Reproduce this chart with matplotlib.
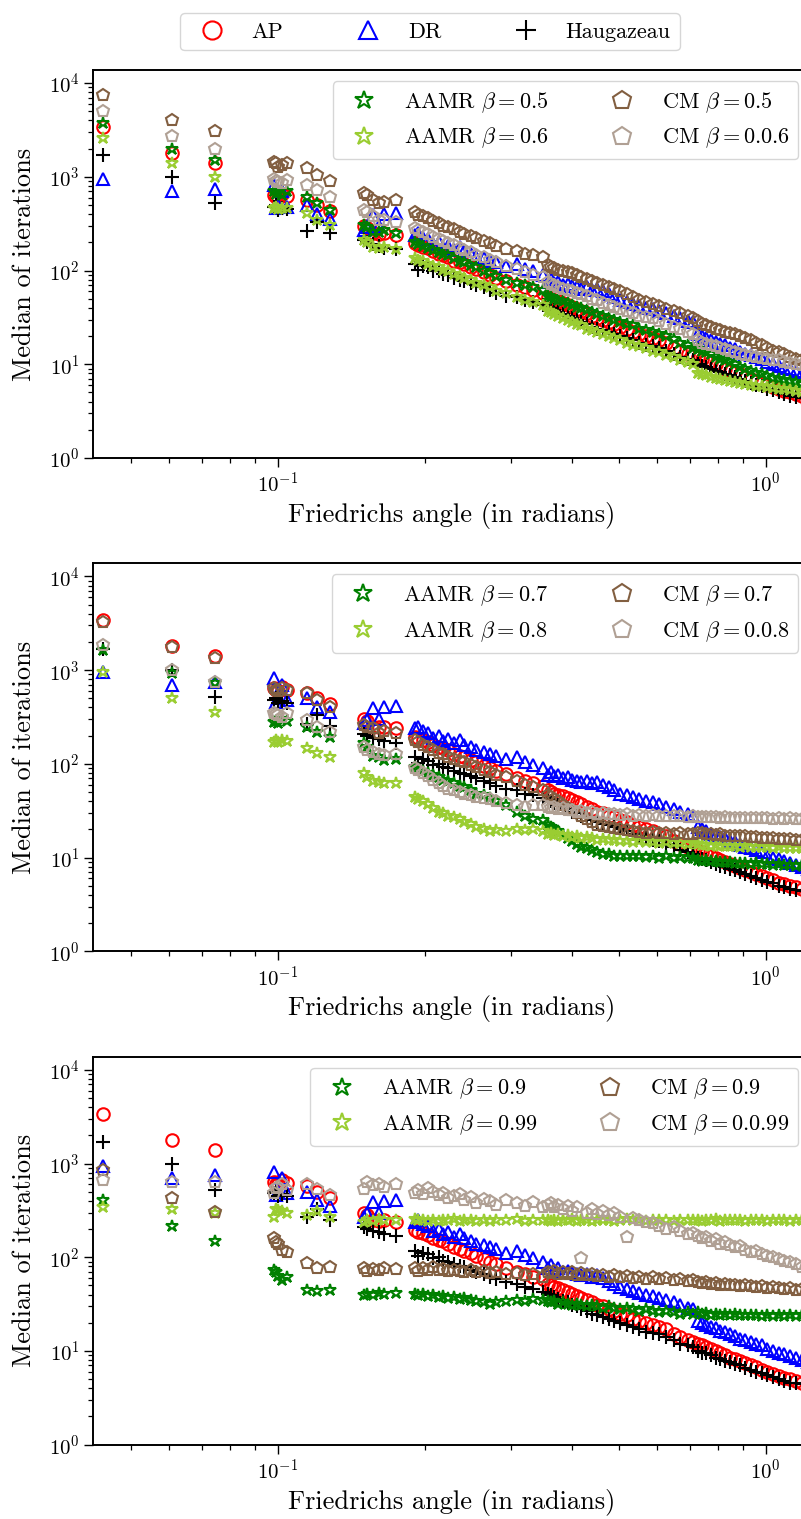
import numpy as np
import matplotlib
matplotlib.use("Agg")
import matplotlib.pyplot as plt

plt.rcParams['font.family'] = 'serif'
plt.rcParams['font.serif'] = ['cmr10']
plt.rcParams['mathtext.fontset'] = 'cm'
plt.rcParams['axes.formatter.use_mathtext'] = True
plt.rcParams['axes.unicode_minus'] = False

# Friedrichs angles of the test problems (radians)
angles = [
    0.0439, 0.0608, 0.0744,
    0.0982, 0.0991, 0.1003, 0.1019, 0.1047,
    0.1148, 0.1203, 0.1281,
    0.1503, 0.1522, 0.1571, 0.1612, 0.1648, 0.1749,
    0.1912, 0.1935, 0.1988, 0.2031, 0.2085, 0.2142, 0.2178, 0.2236, 0.2301, 0.2365, 0.2412,
    0.2488, 0.2553, 0.2641, 0.2717, 0.2802, 0.2934, 0.3098, 0.3215, 0.3342, 0.3497,
    0.3578, 0.3624, 0.3691, 0.3755, 0.3842, 0.3927, 0.4013, 0.4108, 0.4189, 0.4296, 0.4403,
    0.4521, 0.4639, 0.4772, 0.4898, 0.5036, 0.5187, 0.5334, 0.5502, 0.5681, 0.5869, 0.6047,
    0.6253, 0.6472, 0.6688, 0.6921, 0.7103,
    0.7262, 0.7398, 0.7556, 0.7713, 0.7891, 0.8064, 0.8247, 0.8453, 0.8648, 0.8872, 0.9081,
    0.9317, 0.9552, 0.9809, 1.0066, 1.0341, 1.0628, 1.0925, 1.1233, 1.1561, 1.1894, 1.2230,
]

# median iteration counts, common methods
ap = [
    3400, 1800, 1400,
    640, 610, 600, 660, 620,
    570, 500, 430,
    300, 285, 250, 245, 250, 240,
    195, 188, 180, 172, 160, 152, 148, 140, 128, 122, 118, 110, 104, 96, 90, 84, 77, 70, 66, 62, 58,
    52, 50, 48, 47, 45, 43, 41, 39, 37, 35, 33, 31, 30, 28, 27, 25, 24, 22, 21, 20, 19, 18, 17,
    15, 14, 13, 12.5,
    12, 11.5, 11, 10.5, 10, 9.5, 9, 8.5, 8.2, 7.8, 7.4, 7.0, 6.7, 6.3, 6.0, 5.7, 5.4, 5.2, 5.0,
    4.8, 4.6, 4.4,
]
dr = [
    950, 700, 750,
    820, 460, 500, 700, 480,
    500, 405, 355,
    270, 295, 390, 300, 400, 410,
    240, 250, 225, 215, 190, 200, 175, 185, 165, 178, 160, 150, 140, 135, 128, 122, 112, 118,
    105, 98, 90,
    76, 82, 74, 76, 70, 72, 68, 66, 64, 66, 62, 64, 60, 56, 52, 48, 46, 44, 42, 40, 39, 37, 35,
    33, 31, 29, 28,
    21, 20, 19, 18, 17.5, 16.5, 16, 15, 14.5, 13.5, 13, 12.5, 12, 11.5, 10.5, 10, 9.6, 9.2, 8.8,
    8.4, 8.0, 7.6,
]
haug = [
    1700, 1000, 520,
    480, 500, 445, 470, 450,
    266, 330, 252,
    210, 200, 190, 185, 175, 168,
    118, 102, 112, 108, 98, 100, 92, 90, 84, 80, 78, 74, 70, 66, 62, 58, 54, 52, 48, 46, 43,
    41, 40, 38, 36, 34, 33, 31, 30, 28, 27, 25, 24, 23, 22, 21, 20, 19, 18, 17, 16, 15.5, 15,
    14, 13, 12, 11.5, 11,
    10, 9.6, 9.4, 9.0, 8.5, 8.2, 7.9, 7.6, 7.3, 7.0, 6.6, 6.3, 6.0, 5.8, 5.5, 5.3, 5.0, 4.8, 4.6,
    4.5, 4.4, 4.3,
]

# AAMR and CM, beta = 0.5 / 0.6
aamr_05 = [
    3800, 2000, 1500,
    700, 660, 690, 640, 700,
    605, 525, 440,
    305, 290, 260, 257, 270, 250,
    200, 190, 185, 175, 165, 158, 150, 145, 135, 128, 122, 115, 108, 100, 95, 88, 80, 74, 70,
    66, 62,
    54, 52, 50, 48, 47, 45, 43, 41, 40, 38, 36, 34, 33, 31, 30, 28, 27, 26, 24, 23, 22, 21, 20,
    18.5, 17, 16, 15,
    14.5, 14, 13.5, 13, 12, 11.5, 11, 10.5, 10, 9.4, 9.0, 8.5, 8.1, 7.8, 7.5, 7.2, 7.0, 6.8,
    6.6, 6.4, 6.2, 6.0,
]
aamr_06 = [
    2600, 1400, 1000,
    465, 480, 450, 470, 460,
    410, 345, 305,
    211, 200, 178, 172, 180, 170,
    135, 130, 125, 118, 112, 108, 102, 98, 92, 88, 84, 80, 74, 70, 66, 61, 57, 52, 48, 46, 43,
    37, 36, 34, 33, 31, 30, 28, 27, 26, 24, 23, 22, 21, 20, 19, 18, 17, 16, 15.5, 15, 14, 13.5,
    12.5, 12, 11, 10.5, 10,
    8.0, 7.8, 7.6, 7.4, 7.2, 7.0, 6.8, 6.6, 6.5, 6.3, 6.2, 6.0, 5.9, 5.8, 5.7, 5.6, 5.5, 5.4,
    5.3, 5.2, 5.1, 5.0,
]
cm_05 = [
    7500, 4000, 3100,
    1450, 1400, 1260, 1350, 1400,
    1230, 1050, 900,
    675, 640, 560, 525, 540, 560,
    420, 395, 380, 360, 340, 320, 300, 290, 275, 260, 245, 232, 220, 205, 195, 182, 170, 160,
    150, 145, 139,
    114, 110, 106, 102, 100, 96, 94, 90, 86, 82, 78, 74, 70, 66, 63, 60, 56, 52, 49, 46, 44, 42,
    39, 37, 35, 33, 31,
    29, 27, 26, 25, 24, 23, 22, 21.5, 21, 20, 19, 18, 17, 16, 15, 14, 13.5, 12.8, 12, 11.5,
    11, 10.5,
]
cm_06 = [
    5000, 2700, 2000,
    950, 900, 880, 850, 920,
    815, 720, 605,
    440, 420, 380, 345, 350, 330,
    283, 270, 260, 245, 230, 218, 208, 198, 186, 175, 166, 158, 148, 140, 130, 122, 112, 104,
    96, 90, 85,
    75, 72, 70, 67, 64, 62, 60, 58, 56, 53, 50, 48, 45, 43, 41, 39, 37, 35, 33, 32, 31, 29, 27,
    25, 24, 22, 21,
    18, 17, 16.5, 16, 15.5, 15, 14.5, 14, 13.5, 13, 12.5, 12.2, 12, 11.8, 11.5, 11.2, 11, 10.7,
    10.4, 10, 9.8, 9.5,
]

# AAMR and CM, beta = 0.7 / 0.8
aamr_07 = [
    1640, 930, 730,
    280, 290, 275, 300, 285,
    247, 218, 193,
    166, 150, 120, 117, 110, 112,
    92, 88, 84, 80, 76, 72, 68, 65, 62, 58, 56, 52, 48, 46, 43, 40, 36, 31, 28, 26, 25,
    22, 21, 20, 19, 17.5, 16, 15, 14, 13, 12.5, 12, 11.5, 11, 10.8, 10.5, 10.4, 10.5, 10.3,
    10.5, 10.2, 10.4, 10.0, 10.3, 9.9, 10.1, 9.8, 9.9,
    9.5, 9.3, 9.4, 9.1, 9.2, 9.0, 8.9, 9.0, 8.8, 8.7, 8.8, 8.6, 8.7, 8.5, 8.6, 8.4, 8.5, 8.3,
    8.4, 8.2, 8.3, 8.2,
]
aamr_08 = [
    960, 500, 358,
    172, 178, 170, 180, 175,
    148, 131, 118,
    80, 72, 66, 64, 62, 63,
    44, 42, 40, 37, 34, 31, 30, 28, 27, 26, 24, 23, 21, 20, 19, 19.5, 19, 20, 19.5, 20, 19,
    18, 18.5, 17.5, 18, 17, 17.5, 16.5, 17, 16, 16.5, 16, 15.5, 15.8, 15.3, 15.5, 15, 15.2,
    14.8, 15, 14.6, 14.8, 14.4, 14.6, 14.2, 14.4, 14, 14.2,
    13.8, 13.5, 13.7, 13.4, 13.5, 13.3, 13.4, 13.2, 13.3, 13.1, 13.2, 13.0, 13.1, 12.9, 13.0,
    12.8, 12.9, 12.7, 12.8, 12.6, 12.7, 12.5,
]
cm_07 = [
    3300, 1750, 1350,
    645, 620, 600, 640, 610,
    570, 480, 405,
    260, 247, 240, 213, 225, 215,
    180, 170, 160, 150, 142, 132, 126, 118, 112, 108, 104, 98, 92, 86, 82, 76, 72, 66, 60, 56,
    52,
    46, 44, 42, 40, 36, 34, 32, 30, 28, 26, 24, 22.5, 21.5, 21, 20.5, 20, 19.5, 19, 18.8, 18.5,
    18.6, 18.2, 18.4, 18, 18.2, 17.8, 18,
    18.2, 18.5, 17.8, 18, 17.5, 17.8, 17.2, 17, 17.2, 16.8, 16.9, 16.5, 16.6, 16.3, 16.2, 16,
    15.9, 15.8, 15.6, 15.5, 15.4, 15.3,
]
cm_08 = [
    1860, 1000, 750,
    350, 340, 330, 320, 345,
    295, 250, 220,
    152, 140, 134, 128, 124, 126,
    90, 86, 80, 74, 68, 62, 58, 54, 52, 50, 48, 46, 44, 43, 42, 40, 38, 36, 35, 36, 36,
    35, 34, 34.5, 33, 33.5, 32, 32.5, 31, 31.5, 30, 30.5, 29.5, 30, 29, 29.5, 28.5, 29, 28,
    28.5, 28, 28.2, 27.8, 28, 27.5, 27.8, 27.4, 27.6,
    27.3, 27, 27.2, 26.8, 27, 26.7, 26.9, 26.5, 26.7, 26.4, 26.6, 26.3, 26.5, 26.2, 26.4, 26.1,
    26.3, 26, 26.2, 25.9, 26.1, 25.8,
]

# AAMR and CM, beta = 0.9 / 0.99
aamr_09 = [
    412, 213, 150,
    73, 70, 63, 57, 62,
    45, 44, 45,
    40, 41, 40, 42, 41, 42,
    41, 40, 41, 39, 40, 38, 39, 37, 38, 36, 37, 35, 34, 33, 32, 33, 34, 35, 34, 36, 35,
    34, 33, 34, 32, 33, 32, 31, 32, 31, 30, 31, 30, 29, 30, 29, 28, 29, 28, 27, 28, 27, 26, 27,
    26, 25, 26, 25,
    26, 25, 25.5, 24.5, 25, 24.5, 24.8, 24.2, 24.6, 24, 24.4, 24, 24.3, 23.8, 24.2, 23.9, 24.1,
    23.8, 24, 23.7, 24, 23.8,
]
aamr_099 = [
    340, 325, 300,
    270, 330, 320, 310, 300,
    285, 310, 270,
    240, 250, 245, 255, 250, 248,
    255, 248, 252, 246, 250, 244, 251, 247, 253, 245, 249, 252, 246, 250, 243, 251, 248, 254,
    246, 250, 247,
    252, 246, 250, 245, 251, 248, 253, 244, 249, 252, 246, 250, 247, 251, 245, 249, 253, 247,
    250, 244, 251, 248, 252, 246, 250, 247, 249,
    251, 246, 250, 248, 253, 245, 249, 252, 247, 250, 244, 251, 248, 252, 246, 250, 247, 251,
    245, 249, 252, 248,
]
cm_09 = [
    850, 425, 302,
    160, 145, 140, 120, 115,
    86, 77, 78,
    77, 72, 75, 73, 76, 75,
    77, 72, 76, 74, 78, 73, 75, 71, 74, 72, 70, 73, 69, 71, 68, 70, 66, 68, 64, 66, 62,
    70, 68, 71, 67, 69, 66, 70, 65, 68, 64, 67, 63, 65, 62, 64, 61, 63, 60, 62, 59, 61, 58, 60,
    57, 59, 56, 57,
    55, 53, 54, 52, 53, 51, 52, 50, 51, 49, 50, 49, 48, 49, 47, 48, 47, 46, 47, 45, 46, 45,
]
cm_099 = [
    660, 630, 640,
    490, 550, 560, 600, 520,
    600, 530, 465,
    530, 640, 590, 600, 560, 610,
    490, 520, 470, 545, 500, 460, 480, 430, 450, 470, 410, 440, 380, 420, 400, 360, 410, 380,
    350, 390, 340,
    365, 380, 340, 360, 330, 350, 310, 340, 98, 300, 330, 290, 310, 280, 300, 270, 165, 260,
    250, 240, 230, 215, 200, 210, 190, 175, 180,
    170, 160, 165, 150, 155, 140, 145, 135, 128, 132, 120, 115, 118, 108, 104, 100, 96, 92, 88,
    84, 78, 70,
]

panels = [
    (aamr_05, aamr_06, cm_05, cm_06, '0.5', '0.6'),
    (aamr_07, aamr_08, cm_07, cm_08, '0.7', '0.8'),
    (aamr_09, aamr_099, cm_09, cm_099, '0.9', '0.99'),
]

brown = '#825f41'
light_brown = '#b0a094'
mk = dict(linestyle='none', markerfacecolor='none', markersize=9, markeredgewidth=1.5)

fig = plt.figure(figsize=(8.01, 15.19), dpi=100)
W, H = 801.0, 1519.0
x_left, x_right = 93.3, 809.6
tops = [70.0, 563.3, 1056.7]
height = 388.0

for i, (g1, g2, c1, c2, b1, b2) in enumerate(panels):
    ax = fig.add_axes([x_left / W, 1 - (tops[i] + height) / H,
                       (x_right - x_left) / W, height / H])
    h_ap, = ax.plot(angles, ap, marker='o', markeredgecolor='red', label='AP', **mk)
    h_dr, = ax.plot(angles, dr, marker='^', markeredgecolor='blue', label='DR', **mk)
    h_hg, = ax.plot(angles, haug, marker='+', color='black', linestyle='none',
                    markersize=10, markeredgewidth=1.5, label='Haugazeau')
    ax.plot(angles, g1, marker='*', markeredgecolor='green',
            label=r'AAMR $\beta=%s$' % b1, **mk)
    ax.plot(angles, g2, marker='*', markeredgecolor='yellowgreen',
            label=r'AAMR $\beta=%s$' % b2, **mk)
    ax.plot(angles, c1, marker='p', markeredgecolor=brown,
            label=r'CM $\beta=%s$' % b1, **mk)
    ax.plot(angles, c2, marker='p', markeredgecolor=light_brown,
            label=r'CM $\beta=0.%s$' % b2, **mk)

    ax.set_xscale('log')
    ax.set_yscale('log')
    ax.set_xlim(0.0419, 1.23)
    ax.set_ylim(1, 10 ** 4.14)
    ax.spines['right'].set_visible(False)
    for s in ['left', 'bottom', 'top']:
        ax.spines[s].set_linewidth(1.4)
    ax.tick_params(which='major', length=6.5, width=1.0, labelsize=15)
    ax.tick_params(which='minor', length=3.5, width=0.9)
    ax.set_xlabel('Friedrichs angle (in radians)', fontsize=19)
    ax.set_ylabel('Median of iterations', fontsize=19, labelpad=9)

    handles, labels = ax.get_legend_handles_labels()
    ax.legend(handles[3:], labels[3:], ncol=2, loc='upper right', fontsize=16,
              markerscale=1.5, columnspacing=2.3)

    if i == 0:
        fig.legend([h_ap, h_dr, h_hg], ['AP', 'DR', 'Haugazeau'], ncol=3,
                   loc='upper center', bbox_to_anchor=(430 / W, 1 - 2 / H),
                   fontsize=16, markerscale=1.45, columnspacing=2.8)

fig.savefig('out.png', dpi=100)
